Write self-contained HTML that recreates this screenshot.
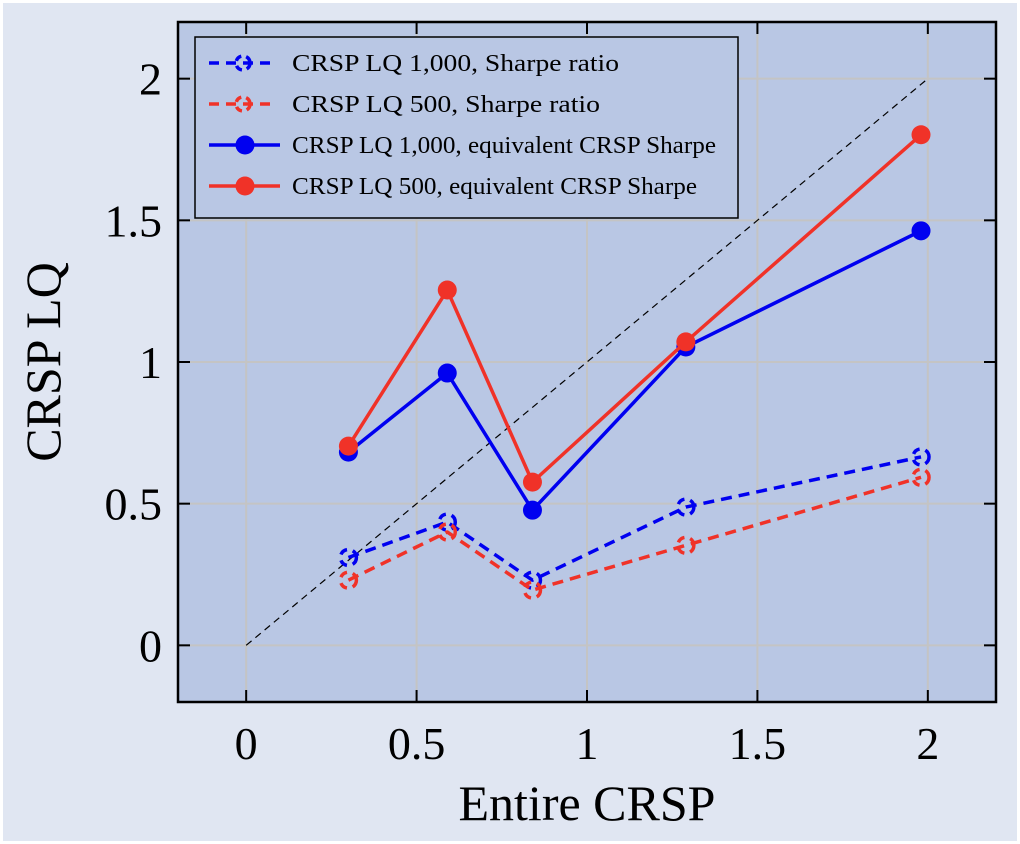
<!DOCTYPE html>
<html><head><meta charset="utf-8"><style>
html,body{margin:0;padding:0;background:#fff}
svg{display:block}
text{font-family:"Liberation Serif",serif;fill:#000}
</style></head><body>
<svg id="chart" width="1020" height="844">
<rect x="3" y="3" width="1014" height="838" fill="#e0e6f2"/>
<rect x="178" y="22" width="818" height="680" fill="#b9c7e4"/>
<g id="grid"></g>
<g id="ticks"></g>
<g id="series"></g>
<rect x="178" y="22" width="818" height="680" fill="none" stroke="#000" stroke-width="2.5"/>
<text x="587" y="820" font-size="50" text-anchor="middle">Entire CRSP</text>
<text transform="translate(60,362) rotate(-90)" font-size="50" text-anchor="middle">CRSP LQ</text>
<g>
<rect x="195" y="37" width="543" height="181" fill="#b9c7e4" stroke="#000" stroke-width="1.5"/>
<g>
<line x1="209" y1="63" x2="273" y2="63" stroke="#0000f0" stroke-width="3.5" stroke-dasharray="10,7"/>
<circle cx="243" cy="63" r="7" fill="none" stroke="#0000f0" stroke-width="3.5" stroke-dasharray="7,5"/>
<text x="292" y="71" font-size="24.5" textLength="327" lengthAdjust="spacingAndGlyphs">CRSP LQ 1,000, Sharpe ratio</text></g>
<g>
<line x1="209" y1="104" x2="273" y2="104" stroke="#f03228" stroke-width="3.5" stroke-dasharray="10,7"/>
<circle cx="243" cy="104" r="7" fill="none" stroke="#f03228" stroke-width="3.5" stroke-dasharray="7,5"/>
<text x="292" y="112" font-size="24.5" textLength="308" lengthAdjust="spacingAndGlyphs">CRSP LQ 500, Sharpe ratio</text></g>
<g>
<line x1="209" y1="145" x2="280" y2="145" stroke="#0000f0" stroke-width="3.5"/>
<circle cx="245" cy="145" r="9.5" fill="#0000f0"/>
<text x="292" y="153" font-size="24.5" textLength="424" lengthAdjust="spacingAndGlyphs">CRSP LQ 1,000, equivalent CRSP Sharpe</text></g>
<g>
<line x1="209" y1="186" x2="280" y2="186" stroke="#f03228" stroke-width="3.5"/>
<circle cx="245" cy="186" r="9.5" fill="#f03228"/>
<text x="292" y="194" font-size="24.5" textLength="405" lengthAdjust="spacingAndGlyphs">CRSP LQ 500, equivalent CRSP Sharpe</text></g>
</g>
</svg>
<script>
const xValues = [0.3, 0.59, 0.84, 1.29, 1.98];
const lq1000Sharpe = [0.31, 0.435, 0.23, 0.488, 0.665];
const lq500Sharpe = [0.23, 0.40, 0.195, 0.353, 0.593];
const lq1000Equiv = [0.682, 0.961, 0.477, 1.053, 1.463];
const lq500Equiv = [0.703, 1.254, 0.576, 1.071, 1.802];
const xTicks = [0, 0.5, 1, 1.5, 2];
const yTicks = [0, 0.5, 1, 1.5, 2];
const xTickLabels = ["0", "0.5", "1", "1.5", "2"];
const yTickLabels = ["0", "0.5", "1", "1.5", "2"];

const NS = "http://www.w3.org/2000/svg";
const L = 178, R = 996, T = 22, B = 702;
const xMin = -0.2, xMax = 2.2, yMin = -0.2, yMax = 2.2;
const sx = v => L + (v - xMin) / (xMax - xMin) * (R - L);
const sy = v => B - (v - yMin) / (yMax - yMin) * (B - T);
function mk(tag, attrs, parent) {
  const e = document.createElementNS(NS, tag);
  for (const k in attrs) e.setAttribute(k, attrs[k]);
  parent.appendChild(e);
  return e;
}
const grid = document.getElementById('grid');
const ticks = document.getElementById('ticks');
const series = document.getElementById('series');
xTicks.forEach((t, i) => {
  const x = sx(t);
  const g = mk('line', {x1: x, x2: x, y1: T, y2: B, stroke: '#c4c4c4', 'stroke-width': 2}, grid);
  
  
  const a = mk('line', {x1: x, x2: x, y1: B, y2: B - 12, stroke: '#000', 'stroke-width': 2}, ticks);
  
  
  const b = mk('line', {x1: x, x2: x, y1: T, y2: T + 12, stroke: '#000', 'stroke-width': 2}, ticks);
  
  
  const tx = mk('text', {x: x, y: 759, 'font-size': 46, 'text-anchor': 'middle'}, ticks);
  tx.textContent = xTickLabels[i];
  
  
});
yTicks.forEach((t, i) => {
  const y = sy(t);
  const g = mk('line', {x1: L, x2: R, y1: y, y2: y, stroke: '#c4c4c4', 'stroke-width': 2}, grid);
  
  
  const a = mk('line', {x1: L, x2: L + 12, y1: y, y2: y, stroke: '#000', 'stroke-width': 2}, ticks);
  
  
  const b = mk('line', {x1: R, x2: R - 12, y1: y, y2: y, stroke: '#000', 'stroke-width': 2}, ticks);
  
  
  const tx = mk('text', {x: 162, y: y + 16, 'font-size': 46, 'text-anchor': 'end'}, ticks);
  tx.textContent = yTickLabels[i];
  
  
});
const diag = mk('line', {x1: sx(0), y1: sy(0), x2: sx(2), y2: sy(2), stroke: '#000', 'stroke-width': 1.2, 'stroke-dasharray': '7,5'}, series);



function drawSeries(vals, color, dashed, name) {
  const g = mk('g', {}, series);
  
  
  const pts = vals.map((v, i) => sx(xValues[i]) + ',' + sy(v)).join(' ');
  const pl = mk('polyline', {points: pts, fill: 'none', stroke: color, 'stroke-width': 3.5, 'stroke-linejoin': 'round'}, g);
  if (dashed) pl.setAttribute('stroke-dasharray', '11,7');
  
  
  vals.forEach((v, i) => {
    const c = dashed
      ? mk('circle', {cx: sx(xValues[i]), cy: sy(v), r: 8, fill: 'none', stroke: color, 'stroke-width': 3.5, 'stroke-dasharray': '8,6'}, g)
      : mk('circle', {cx: sx(xValues[i]), cy: sy(v), r: 9.5, fill: color}, g);
    
    
  });
}
drawSeries(lq1000Sharpe, '#0000f0', true, 'lq1000-sharpe-series');
drawSeries(lq500Sharpe, '#f03228', true, 'lq500-sharpe-series');
drawSeries(lq1000Equiv, '#0000f0', false, 'lq1000-equivalent-series');
drawSeries(lq500Equiv, '#f03228', false, 'lq500-equivalent-series');
</script>
</body></html>
